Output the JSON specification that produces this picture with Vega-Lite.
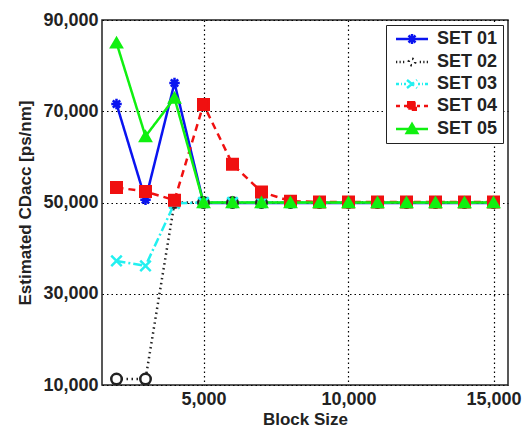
{
  "$schema": "https://vega.github.io/schema/vega-lite/v6.json",
  "width": 406,
  "height": 365,
  "autosize": {"type": "none"},
  "padding": {"left": 102, "top": 20, "right": 14, "bottom": 45},
  "background": "white",
  "config": {
    "view": {"stroke": "#222222", "strokeWidth": 1.5},
    "font": "Liberation Sans",
    "axis": {
      "labelFont": "Liberation Sans", "labelFontWeight": "bold", "labelFontSize": 18, "labelColor": "#222222",
      "titleFont": "Liberation Sans", "titleFontWeight": "bold", "titleFontSize": 17, "titleColor": "#222222",
      "grid": true, "gridColor": "#000000", "gridDash": [1.5, 3], "gridOpacity": 1, "gridWidth": 1.2,
      "domain": false, "ticks": false
    },
    "legend": {
      "labelFont": "Liberation Sans", "labelFontWeight": "bold", "labelFontSize": 18, "labelColor": "#222222"
    }
  },
  "data": {"values": [
    {"set": "SET 01", "block": 2000, "value": 71600},
    {"set": "SET 01", "block": 3000, "value": 50600},
    {"set": "SET 01", "block": 4000, "value": 76200},
    {"set": "SET 01", "block": 5000, "value": 49900},
    {"set": "SET 01", "block": 6000, "value": 49900},
    {"set": "SET 01", "block": 7000, "value": 49900},
    {"set": "SET 01", "block": 8000, "value": 49900},
    {"set": "SET 01", "block": 9000, "value": 49900},
    {"set": "SET 01", "block": 10000, "value": 49900},
    {"set": "SET 01", "block": 11000, "value": 49900},
    {"set": "SET 01", "block": 12000, "value": 49900},
    {"set": "SET 01", "block": 13000, "value": 49900},
    {"set": "SET 01", "block": 14000, "value": 49900},
    {"set": "SET 01", "block": 15000, "value": 49900},
    {"set": "SET 02", "block": 2000, "value": 11300},
    {"set": "SET 02", "block": 3000, "value": 11300},
    {"set": "SET 02", "block": 4000, "value": 50000},
    {"set": "SET 02", "block": 5000, "value": 50000},
    {"set": "SET 02", "block": 6000, "value": 50000},
    {"set": "SET 02", "block": 7000, "value": 50000},
    {"set": "SET 02", "block": 8000, "value": 50000},
    {"set": "SET 02", "block": 9000, "value": 50000},
    {"set": "SET 02", "block": 10000, "value": 50000},
    {"set": "SET 02", "block": 11000, "value": 50000},
    {"set": "SET 02", "block": 12000, "value": 50000},
    {"set": "SET 02", "block": 13000, "value": 50000},
    {"set": "SET 02", "block": 14000, "value": 50000},
    {"set": "SET 02", "block": 15000, "value": 50000},
    {"set": "SET 03", "block": 2000, "value": 37200},
    {"set": "SET 03", "block": 3000, "value": 36100},
    {"set": "SET 03", "block": 4000, "value": 49800},
    {"set": "SET 03", "block": 5000, "value": 50000},
    {"set": "SET 03", "block": 6000, "value": 50000},
    {"set": "SET 03", "block": 7000, "value": 50000},
    {"set": "SET 03", "block": 8000, "value": 50000},
    {"set": "SET 03", "block": 9000, "value": 50000},
    {"set": "SET 03", "block": 10000, "value": 50000},
    {"set": "SET 03", "block": 11000, "value": 50000},
    {"set": "SET 03", "block": 12000, "value": 50000},
    {"set": "SET 03", "block": 13000, "value": 50000},
    {"set": "SET 03", "block": 14000, "value": 50000},
    {"set": "SET 03", "block": 15000, "value": 50000},
    {"set": "SET 04", "block": 2000, "value": 53300},
    {"set": "SET 04", "block": 3000, "value": 52400},
    {"set": "SET 04", "block": 4000, "value": 50500},
    {"set": "SET 04", "block": 5000, "value": 71500},
    {"set": "SET 04", "block": 6000, "value": 58400},
    {"set": "SET 04", "block": 7000, "value": 52300},
    {"set": "SET 04", "block": 8000, "value": 50300},
    {"set": "SET 04", "block": 9000, "value": 50100},
    {"set": "SET 04", "block": 10000, "value": 50100},
    {"set": "SET 04", "block": 11000, "value": 50100},
    {"set": "SET 04", "block": 12000, "value": 50100},
    {"set": "SET 04", "block": 13000, "value": 50100},
    {"set": "SET 04", "block": 14000, "value": 50100},
    {"set": "SET 04", "block": 15000, "value": 50100},
    {"set": "SET 05", "block": 2000, "value": 85000},
    {"set": "SET 05", "block": 3000, "value": 64500},
    {"set": "SET 05", "block": 4000, "value": 72900},
    {"set": "SET 05", "block": 5000, "value": 50000},
    {"set": "SET 05", "block": 6000, "value": 50000},
    {"set": "SET 05", "block": 7000, "value": 50000},
    {"set": "SET 05", "block": 8000, "value": 50000},
    {"set": "SET 05", "block": 9000, "value": 50000},
    {"set": "SET 05", "block": 10000, "value": 50000},
    {"set": "SET 05", "block": 11000, "value": 50000},
    {"set": "SET 05", "block": 12000, "value": 50000},
    {"set": "SET 05", "block": 13000, "value": 50000},
    {"set": "SET 05", "block": 14000, "value": 50000},
    {"set": "SET 05", "block": 15000, "value": 50000}
  ]},
  "encoding": {
    "x": {"field": "block", "type": "quantitative", "title": "Block Size",
      "scale": {"domain": [1500, 15500], "nice": false, "zero": false},
      "axis": {"values": [5000, 10000, 15000], "format": ",d", "labelPadding": 5, "titlePadding": 3}},
    "y": {"field": "value", "type": "quantitative", "title": "Estimated CDacc [ps/nm]",
      "scale": {"domain": [10000, 90000], "nice": false, "zero": false},
      "axis": {"values": [10000, 30000, 50000, 70000, 90000], "format": ",d", "labelPadding": 4, "titlePadding": 8}}
  },
  "resolve": {"legend": {"stroke": "independent", "strokeDash": "independent", "color": "independent", "shape": "independent", "fill": "independent"}},
  "layer": [
    {
      "mark": {"type": "line", "strokeWidth": 2.5},
      "encoding": {
        "detail": {"field": "set"},
        "stroke": {"field": "set", "type": "nominal",
          "scale": {"domain": ["SET 01", "SET 02", "SET 03", "SET 04", "SET 05"], "range": ["#0a14f0", "#222222", "#22f0f0", "#f01010", "#10f010"]},
          "legend": {"orient": "top-right", "offset": 5, "title": null, "strokeColor": "#222222", "fillColor": "white",
            "padding": 5, "rowPadding": 4, "symbolSize": 100, "symbolStrokeWidth": 2.5, "symbolOffset": 12, "labelOffset": 16,
            "symbolDash": [1, 0],
            "encode": {"symbols": {"update": {
              "strokeDash": {"value": [1, 0]},
              "fill": {"signal": "datum.value === 'SET 02' ? 'white' : datum.value === 'SET 03' ? '#22f0f0' : datum.value === 'SET 04' ? '#f01010' : datum.value === 'SET 05' ? '#10f010' : '#0a14f0'"},
              "shape": {"signal": "datum.value === 'SET 01' ? 'M-3.2,0L3.2,0M-1,0L1,0M0,-1L0,1M-0.7,-0.7L0.7,0.7M-0.7,0.7L0.7,-0.7' : datum.value === 'SET 02' ? 'M-3.2,0L-2.95,0M-2.5,0L-2.25,0M-1.8,0L-1.55,0M1.55,0L1.8,0M2.25,0L2.5,0M2.95,0L3.2,0M0.65,0A0.65,0.65,0,1,1,-0.65,0A0.65,0.65,0,1,1,0.65,0Z' : datum.value === 'SET 03' ? 'M-3.2,0L-2.6,0M-2.2,0L-2.0,0M-1.6,0L-1.2,0M1.2,0L1.6,0M2.0,0L2.2,0M2.6,0L3.2,0M-1,-0.8L1,0.8M-1,0.8L1,-0.8' : datum.value === 'SET 04' ? 'M-3.2,0L-2.4,0M-1.6,0L-1.0,0M1.0,0L1.6,0M2.4,0L3.2,0M-0.75,-0.75L0.75,-0.75L0.75,0.75L-0.75,0.75Z' : 'M-3.2,0L3.2,0M0,-1L1.05,0.8L-1.05,0.8Z'"}}}}}},
        "strokeDash": {"field": "set", "type": "nominal",
          "scale": {"domain": ["SET 01", "SET 02", "SET 03", "SET 04", "SET 05"], "range": [[1, 0], [1.5, 3.5], [9, 3, 2, 3], [7, 5], [1, 0]]},
          "legend": {"orient": "top-right", "offset": 5, "title": null, "strokeColor": "#222222", "fillColor": "white",
            "padding": 5, "rowPadding": 4, "symbolSize": 100, "symbolStrokeWidth": 2.5, "symbolOffset": 12, "labelOffset": 16,
            "symbolDash": [1, 0],
            "encode": {"symbols": {"update": {
              "strokeDash": {"value": [1, 0]},
              "fill": {"signal": "datum.value === 'SET 02' ? 'white' : datum.value === 'SET 03' ? '#22f0f0' : datum.value === 'SET 04' ? '#f01010' : datum.value === 'SET 05' ? '#10f010' : '#0a14f0'"},
              "shape": {"signal": "datum.value === 'SET 01' ? 'M-3.2,0L3.2,0M-1,0L1,0M0,-1L0,1M-0.7,-0.7L0.7,0.7M-0.7,0.7L0.7,-0.7' : datum.value === 'SET 02' ? 'M-3.2,0L-2.95,0M-2.5,0L-2.25,0M-1.8,0L-1.55,0M1.55,0L1.8,0M2.25,0L2.5,0M2.95,0L3.2,0M0.65,0A0.65,0.65,0,1,1,-0.65,0A0.65,0.65,0,1,1,0.65,0Z' : datum.value === 'SET 03' ? 'M-3.2,0L-2.6,0M-2.2,0L-2.0,0M-1.6,0L-1.2,0M1.2,0L1.6,0M2.0,0L2.2,0M2.6,0L3.2,0M-1,-0.8L1,0.8M-1,0.8L1,-0.8' : datum.value === 'SET 04' ? 'M-3.2,0L-2.4,0M-1.6,0L-1.0,0M1.0,0L1.6,0M2.4,0L3.2,0M-0.75,-0.75L0.75,-0.75L0.75,0.75L-0.75,0.75Z' : 'M-3.2,0L3.2,0M0,-1L1.05,0.8L-1.05,0.8Z'"}}}}}}
      }
    },
    {
      "mark": {"type": "point", "filled": false, "strokeWidth": 2.5, "opacity": 1},
      "encoding": {
        "color": {"field": "set", "type": "nominal",
          "scale": {"domain": ["SET 01", "SET 02", "SET 03", "SET 04", "SET 05"], "range": ["#0a14f0", "#222222", "#22f0f0", "#f01010", "#10f010"]},
          "legend": null},
        "shape": {"field": "set", "type": "nominal",
          "scale": {"domain": ["SET 01", "SET 02", "SET 03", "SET 04", "SET 05"],
            "range": ["M-1,0L1,0M0,-1L0,1M-0.7,-0.7L0.7,0.7M-0.7,0.7L0.7,-0.7", "circle", "M-1,-1L1,1M-1,1L1,-1", "square", "triangle-up"]},
          "legend": null},
        "fill": {"field": "set", "type": "nominal",
          "scale": {"domain": ["SET 01", "SET 02", "SET 03", "SET 04", "SET 05"], "range": ["#0a14f0", "white", "#22f0f0", "#f01010", "#10f010"]},
          "legend": null},
        "size": {"value": 110}
      }
    }
  ]
}
